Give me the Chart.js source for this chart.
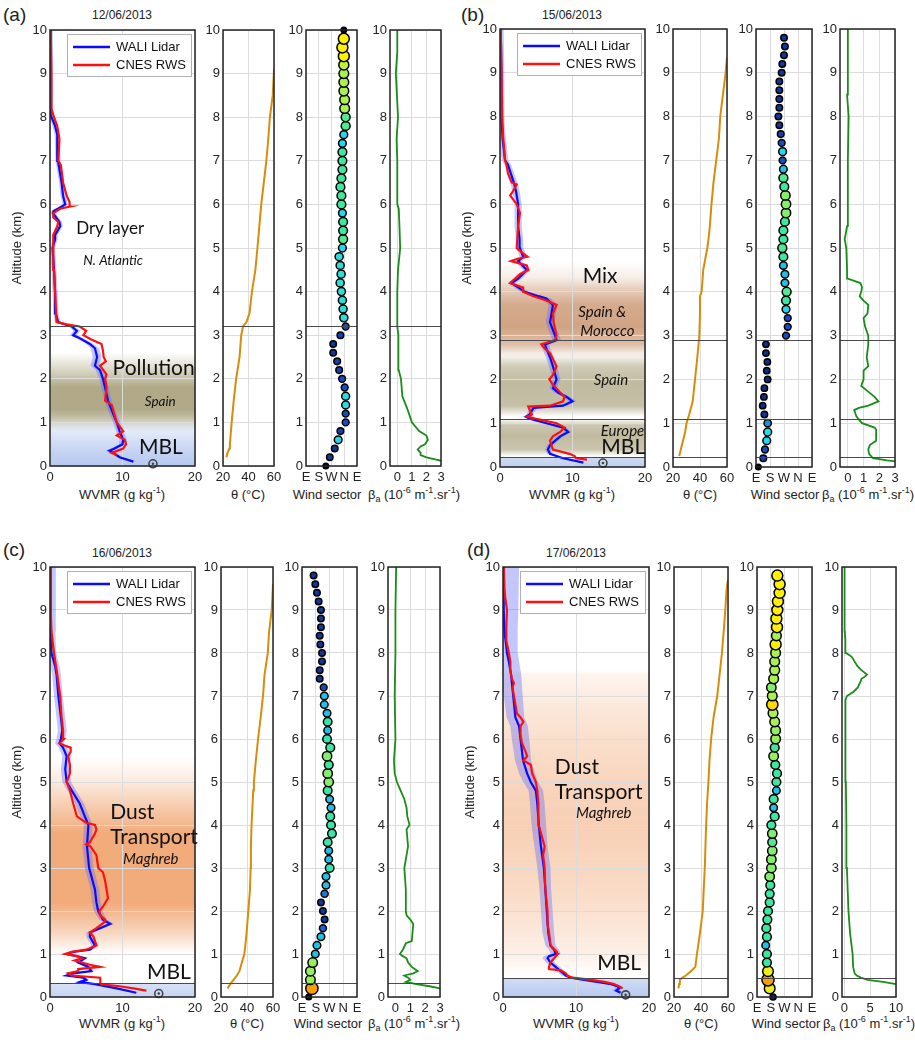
<!DOCTYPE html>
<html>
<head>
<meta charset="utf-8">
<script src="https://cdn.jsdelivr.net/npm/chart.js@4.4.1/dist/chart.umd.min.js"></script>
<style>
  body { margin: 0; background: #fff; width: 915px; height: 1046px; position: relative; overflow: hidden;
         font-family: "Liberation Sans", Arial, sans-serif; color: #222; }
  .lbl { position: absolute; white-space: nowrap; transform: translate(-50%, -50%); font-size: 13px; }
  .pl { position: absolute; font-size: 19px; transform: translateY(-50%); }
  sup, sub { font-size: 9px; line-height: 0; }
</style>
</head>
<body>

<div class="pl" style="left:3px;top:15px">(a)</div>
<div class="lbl" style="left:122px;top:15px;font-size:12px">12/06/2013</div>
<div class="pl" style="left:461px;top:15px">(b)</div>
<div class="lbl" style="left:572px;top:15px;font-size:12px">15/06/2013</div>
<div class="pl" style="left:3px;top:550px">(c)</div>
<div class="lbl" style="left:122px;top:553px;font-size:12px">16/06/2013</div>
<div class="pl" style="left:467px;top:550px">(d)</div>
<div class="lbl" style="left:576px;top:553px;font-size:12px">17/06/2013</div>

<div class="lbl" style="left:122px;top:494px">WVMR (g kg<sup>-1</sup>)</div>
<div class="lbl" style="left:248px;top:494px">θ (°C)</div>
<div class="lbl" style="left:327px;top:494px">Wind sector</div>
<div class="lbl" style="left:414px;top:494px">β<sub>a</sub> (10<sup>-6</sup> m<sup>-1</sup>.sr<sup>-1</sup>)</div>

<div class="lbl" style="left:572px;top:494px">WVMR (g kg<sup>-1</sup>)</div>
<div class="lbl" style="left:700px;top:494px">θ (°C)</div>
<div class="lbl" style="left:785px;top:494px">Wind sector</div>
<div class="lbl" style="left:868px;top:494px">β<sub>a</sub> (10<sup>-6</sup> m<sup>-1</sup>.sr<sup>-1</sup>)</div>

<div class="lbl" style="left:122px;top:1023px">WVMR (g kg<sup>-1</sup>)</div>
<div class="lbl" style="left:247px;top:1023px">θ (°C)</div>
<div class="lbl" style="left:328px;top:1023px">Wind sector</div>
<div class="lbl" style="left:414px;top:1023px">β<sub>a</sub> (10<sup>-6</sup> m<sup>-1</sup>.sr<sup>-1</sup>)</div>

<div class="lbl" style="left:576px;top:1023px">WVMR (g kg<sup>-1</sup>)</div>
<div class="lbl" style="left:701px;top:1023px">θ (°C)</div>
<div class="lbl" style="left:786px;top:1023px">Wind sector</div>
<div class="lbl" style="left:869px;top:1023px">β<sub>a</sub> (10<sup>-6</sup> m<sup>-1</sup>.sr<sup>-1</sup>)</div>

<script>
"use strict";

// common axes
const ALT_TICKS = [0, 1, 2, 3, 4, 5, 6, 7, 8, 9, 10];
const WVMR_TICKS = [0, 10, 20];
const THETA_TICKS = [20, 40, 60];
const WIND_TICKS = [90, 180, 270, 360, 450];
const WIND_LABELS = ['E', 'S', 'W', 'N', 'E'];
const BETA_TICKS = [0, 1, 2, 3];
const BETA_TICKS_D = [0, 5, 10];

// ---- (a) 12/06/2013 ----
const lidarAltA = [0.1, 0.2, 0.3, 0.35, 0.4, 0.5, 0.6, 0.8, 1.0, 1.2, 1.5, 1.8, 2.0, 2.2, 2.3, 2.5, 2.7, 2.8, 2.95, 3.0, 3.1, 3.2, 3.25, 3.3, 3.5, 4.0, 4.5, 5.0, 5.2, 5.3, 5.5, 5.6, 5.8, 5.85, 5.9, 6.0, 6.2, 6.5, 6.8, 7.0, 7.6, 7.8, 8.0, 8.1, 9.0, 10.0];
const lidarA = [11.5, 9.6, 8.7, 8.2, 8.9, 10.0, 10.1, 9.6, 9.2, 8.7, 8.0, 7.6, 7.3, 6.9, 6.2, 6.5, 6.2, 5.5, 3.9, 3.2, 3.7, 3.0, 2.0, 1.1, 0.8, 0.7, 0.55, 0.35, 0.7, 0.7, 1.4, 1.3, 0.4, 0.5, 1.1, 2.1, 1.8, 1.6, 1.3, 1.1, 1.0, 0.7, 0.2, 0.0, 0.1, 0.1];
const lidarErrA = [0.4, 0.4, 0.5, 0.5, 0.5, 0.5, 0.5, 0.5, 0.5, 0.5, 0.5, 0.5, 0.5, 0.6, 0.6, 0.6, 0.6, 0.5, 0.5, 0.5, 0.5, 0.4, 0.4, 0.4, 0.35, 0.35, 0.35, 0.35, 0.35, 0.35, 0.35, 0.35, 0.35, 0.35, 0.35, 0.35, 0.35, 0.35, 0.35, 0.35, 0.35, 0.35, 0.3, 0.3, 0.3, 0.3];
const rwsAltA = [0.25, 0.3, 0.4, 0.5, 0.6, 0.7, 0.8, 1.0, 1.4, 1.5, 1.8, 2.0, 2.1, 2.3, 2.4, 2.5, 2.65, 2.8, 2.9, 3.0, 3.1, 3.2, 3.25, 3.3, 4.0, 4.5, 5.0, 5.3, 5.5, 5.6, 5.7, 5.8, 5.9, 5.95, 6.05, 6.2, 6.5, 6.9, 7.0, 7.5, 7.8, 8.0, 8.2, 9.0, 10.0];
const rwsA = [9.2, 8.5, 10.1, 10.5, 10.3, 9.2, 10.1, 9.2, 8.5, 7.6, 7.8, 7.6, 7.8, 6.9, 7.7, 7.4, 7.3, 7.1, 5.7, 4.6, 5.0, 4.1, 2.3, 0.9, 0.7, 0.55, 0.45, 0.45, 1.0, 1.15, 0.45, 0.45, 1.4, 2.75, 2.7, 2.3, 1.8, 1.5, 1.15, 1.3, 1.0, 0.55, 0.2, 0.2, 0.1];
const surfA = {x: 14.2, y: 0.05};
const thetaAltA = [0.2, 0.3, 0.4, 0.5, 1.0, 1.5, 2.0, 2.5, 3.0, 3.2, 3.3, 3.5, 4.0, 4.5, 5.0, 5.5, 6.0, 6.5, 7.0, 7.5, 8.0, 8.5, 9.1];
const thetaA = [22.7, 23.5, 25, 25.4, 26.8, 28.4, 30.3, 33, 34.3, 35.7, 38.4, 40.8, 42.7, 45.4, 47, 48.5, 50, 52, 54, 55.5, 56.8, 59, 60];
const windAltA = [0.0, 0.2, 0.4, 0.6, 0.8, 1.0, 1.2, 1.4, 1.6, 1.8, 2.0, 2.2, 2.4, 2.6, 2.8, 3.0, 3.2, 3.4, 3.6, 3.8, 4.0, 4.2, 4.4, 4.6, 4.8, 5.0, 5.2, 5.4, 5.6, 5.8, 6.0, 6.2, 6.4, 6.6, 6.8, 7.0, 7.2, 7.4, 7.6, 7.8, 8.0, 8.2, 8.4, 8.6, 8.8, 9.0, 9.2, 9.4, 9.6, 9.8, 10.0];
const windDirA = [230, 258, 293, 317, 333, 370, 370, 370, 370, 363, 345, 324, 310, 282, 282, 333, 370, 357, 352, 347, 340, 331, 338, 331, 324, 347, 352, 352, 352, 347, 340, 340, 333, 340, 347, 347, 347, 347, 357, 370, 370, 363, 363, 357, 357, 357, 357, 357, 347, 357, 357];
const windSpdA = [1, 4, 4, 8, 4.5, 5, 5, 8.5, 8.5, 5, 5, 4.5, 4.5, 4, 4, 4.5, 5, 9, 9, 9, 9, 9, 9, 9, 9, 8, 11.5, 11, 11, 8, 11, 11, 11, 11, 11, 11, 11, 8, 8, 11.5, 11.5, 14, 14, 14, 14, 14, 15, 18, 18, 18, 1];
const betaAltA = [0.12, 0.15, 0.2, 0.25, 0.3, 0.38, 0.45, 0.5, 0.6, 0.7, 0.8, 1.0, 1.3, 1.6, 1.8, 2.0, 2.2, 2.5, 3.0, 3.2, 3.5, 4.0, 4.5, 5.0, 5.5, 5.9, 6.0, 7.0, 7.5, 8.0, 9.0, 9.5, 10.0];
const betaA = [3.0, 2.6, 2.0, 1.6, 1.6, 1.4, 1.6, 1.9, 2.1, 2.0, 1.5, 1.0, 0.7, 0.35, 0.3, 0.25, 0.1, 0.1, 0.05, 0.0, 0.0, 0.0, 0.05, 0.2, 0.15, 0.1, 0.0, 0.0, -0.05, 0.05, -0.1, 0.0, 0.0];
const layersA = [3.2];

// ---- (b) 15/06/2013 ----
const lidarAltB = [0.1, 0.2, 0.3, 0.4, 0.5, 0.7, 0.8, 0.9, 1.0, 1.1, 1.15, 1.2, 1.35, 1.4, 1.5, 1.6, 1.7, 1.8, 2.0, 2.3, 2.5, 2.7, 2.8, 2.9, 3.0, 3.3, 3.5, 3.7, 3.85, 3.9, 4.0, 4.1, 4.2, 4.3, 4.5, 4.7, 4.8, 5.0, 5.2, 5.5, 6.0, 6.3, 6.5, 6.7, 6.9, 7.0, 7.5, 8.0, 9.0, 10.0];
const lidarB = [11.5, 8.7, 6.9, 6.6, 6.9, 8.3, 9.4, 8.7, 6.4, 4.1, 3.6, 4.1, 4.6, 8.7, 10.0, 9.2, 8.0, 7.3, 7.8, 7.3, 6.9, 6.4, 6.2, 7.8, 7.6, 6.9, 7.1, 7.3, 6.4, 5.3, 3.4, 2.5, 1.6, 2.5, 3.7, 2.5, 3.2, 2.75, 2.7, 2.5, 2.5, 2.2, 1.9, 1.5, 1.1, 0.7, 0.35, 0.2, 0.2, 0.1];
const lidarErrB = [0.4, 0.4, 0.4, 0.4, 0.4, 0.45, 0.45, 0.45, 0.45, 0.45, 0.45, 0.45, 0.5, 0.5, 0.5, 0.5, 0.5, 0.5, 0.55, 0.55, 0.55, 0.55, 0.6, 0.6, 0.6, 0.6, 0.6, 0.6, 0.6, 0.6, 0.55, 0.55, 0.5, 0.5, 0.5, 0.5, 0.5, 0.5, 0.5, 0.5, 0.5, 0.5, 0.5, 0.45, 0.45, 0.45, 0.45, 0.4, 0.4, 0.4];
const rwsAltB = [0.17, 0.2, 0.25, 0.3, 0.4, 0.5, 0.6, 0.7, 0.8, 0.9, 1.0, 1.1, 1.15, 1.2, 1.3, 1.38, 1.4, 1.5, 1.6, 1.7, 1.9, 2.0, 2.1, 2.3, 2.6, 2.7, 2.8, 2.9, 3.0, 3.3, 3.5, 3.7, 3.8, 3.9, 4.0, 4.1, 4.2, 4.4, 4.5, 4.6, 4.7, 4.75, 4.8, 4.9, 5.0, 5.5, 5.8, 6.0, 6.2, 6.3, 6.45, 6.5, 6.7, 6.9, 7.0, 7.5, 8.0, 9.0, 10.0];
const rwsB = [12.0, 10.5, 10.3, 9.6, 7.3, 7.1, 6.9, 7.3, 8.3, 8.9, 7.8, 5.0, 3.8, 4.4, 4.1, 3.9, 6.9, 8.7, 8.9, 8.3, 7.2, 6.8, 7.3, 7.8, 6.9, 6.2, 5.7, 7.6, 7.8, 7.4, 7.3, 7.8, 6.4, 4.6, 3.2, 3.2, 1.4, 2.75, 3.9, 3.7, 1.5, 2.3, 3.8, 3.0, 2.3, 2.5, 2.75, 2.3, 1.4, 1.8, 2.3, 1.6, 1.1, 0.9, 0.7, 0.45, 0.3, 0.2, 0.1];
const surfB = {x: 14.2, y: 0.09};
const thetaAltB = [0.25, 0.5, 0.8, 1.0, 1.2, 1.5, 2.0, 2.5, 3.0, 3.5, 3.9, 4.0, 4.5, 5.0, 5.2, 5.5, 6.0, 6.5, 7.0, 7.5, 8.0, 8.5, 9.0, 9.35];
const thetaB = [24.6, 26.6, 29, 30, 32, 34.6, 36.3, 38, 39.5, 40, 40, 41.2, 42.4, 45.4, 46.3, 47.3, 48.5, 50, 52, 54, 55, 57, 59, 60];
const windAltB = [0.0, 0.2, 0.4, 0.6, 0.8, 1.0, 1.2, 1.4, 1.6, 1.8, 2.0, 2.2, 2.4, 2.6, 2.8, 3.0, 3.2, 3.4, 3.6, 3.8, 4.0, 4.2, 4.4, 4.6, 4.8, 5.0, 5.2, 5.4, 5.6, 5.8, 6.0, 6.2, 6.4, 6.6, 6.8, 7.0, 7.2, 7.4, 7.6, 7.8, 8.0, 8.2, 8.4, 8.6, 8.8, 9.0, 9.2, 9.4, 9.6, 9.8];
const windDirB = [105, 137, 148, 159, 165, 165, 144, 133, 141, 144, 165, 159, 163, 154, 154, 283, 294, 294, 283, 283, 287, 276, 276, 266, 266, 259, 266, 266, 276, 283, 283, 279, 272, 266, 266, 261, 261, 255, 249, 240, 234, 240, 240, 240, 240, 255, 259, 270, 276, 270];
const windSpdB = [1, 4.5, 5, 8, 8.5, 6.5, 4, 3.5, 3.5, 3.5, 3.5, 3.5, 3.5, 3.5, 3.5, 5, 5, 5, 8, 11, 11.5, 7.5, 7.5, 7.5, 11, 11.5, 11, 11, 11, 13, 13, 13, 11, 11.5, 7.5, 5, 8, 5, 4.5, 4, 4, 4, 4, 4, 4, 4, 4, 4, 4, 4];
const betaAltB = [0.13, 0.15, 0.2, 0.3, 0.4, 0.5, 0.6, 0.85, 0.9, 1.0, 1.15, 1.3, 1.35, 1.4, 1.5, 1.6, 1.75, 1.85, 2.0, 2.2, 2.3, 2.5, 2.8, 3.0, 3.2, 3.4, 3.5, 3.7, 3.8, 3.9, 4.0, 4.1, 4.2, 4.25, 4.3, 4.5, 5.0, 5.2, 5.5, 6.0, 7.0, 8.0, 8.5, 9.0, 10.0];
const betaB = [3.0, 2.5, 1.6, 1.35, 1.3, 1.4, 1.8, 1.8, 1.7, 0.9, 0.55, 0.4, 0.7, 1.3, 1.95, 1.7, 1.2, 0.85, 1.0, 1.0, 1.3, 1.2, 1.3, 1.3, 1.1, 1.0, 1.25, 1.3, 1.0, 0.75, 0.85, 0.9, 0.8, 0.4, 0.0, -0.05, -0.1, -0.2, -0.05, 0.0, 0.0, 0.05, -0.05, 0.0, 0.0];
const layersB = [2.9, 1.1, 0.22];

// ---- (c) 16/06/2013 ----
const lidarAltC = [0.1, 0.2, 0.3, 0.35, 0.4, 0.45, 0.5, 0.55, 0.6, 0.7, 0.8, 0.9, 0.95, 1.0, 1.05, 1.1, 1.2, 1.4, 1.5, 1.6, 1.7, 1.8, 2.0, 2.2, 2.5, 3.0, 3.5, 4.0, 4.2, 4.5, 4.8, 5.0, 5.3, 5.6, 5.8, 5.9, 6.0, 6.2, 6.5, 7.0, 7.5, 7.7, 8.0, 8.5, 9.0, 10.0];
const lidarC = [11.9, 9.2, 6.2, 4.1, 5.0, 4.6, 2.3, 3.2, 5.7, 5.3, 3.9, 4.8, 3.7, 2.3, 3.2, 5.5, 6.2, 5.5, 5.5, 6.9, 8.3, 7.3, 6.65, 6.4, 6.2, 5.4, 5.1, 5.3, 4.8, 4.1, 3.0, 2.3, 2.1, 2.3, 1.8, 1.3, 1.5, 1.7, 1.5, 1.15, 0.9, 0.7, 0.2, 0.1, 0.1, 0.1];
const lidarErrC = [0.4, 0.4, 0.4, 0.4, 0.4, 0.4, 0.4, 0.4, 0.4, 0.4, 0.4, 0.4, 0.4, 0.4, 0.4, 0.45, 0.5, 0.5, 0.5, 0.5, 0.55, 0.55, 0.6, 0.6, 0.6, 0.6, 0.6, 0.6, 0.6, 0.6, 0.6, 0.6, 0.6, 0.6, 0.6, 0.6, 0.6, 0.6, 0.6, 0.6, 0.6, 0.6, 0.65, 0.65, 0.7, 0.7];
const rwsAltC = [0.15, 0.2, 0.25, 0.3, 0.35, 0.4, 0.45, 0.5, 0.55, 0.6, 0.65, 0.7, 0.75, 0.85, 0.9, 0.95, 1.0, 1.05, 1.1, 1.2, 1.4, 1.5, 1.6, 1.75, 1.8, 1.9, 2.0, 2.1, 2.3, 2.5, 2.7, 2.9, 3.0, 3.3, 3.5, 3.55, 3.6, 3.8, 3.9, 4.0, 4.05, 4.2, 4.5, 4.8, 5.0, 5.2, 5.4, 5.6, 5.7, 5.8, 5.85, 5.9, 6.0, 6.2, 6.5, 7.0, 7.5, 8.0, 8.5, 9.0, 10.0];
const rwsC = [13.3, 11.5, 9.6, 6.9, 7.0, 6.9, 6.9, 3.0, 2.5, 3.9, 3.9, 6.9, 5.5, 3.4, 4.4, 3.7, 2.1, 3.0, 5.0, 6.4, 6.0, 5.5, 6.4, 7.6, 7.6, 6.9, 6.8, 7.3, 8.0, 7.8, 7.6, 7.3, 6.65, 6.4, 5.6, 5.0, 5.5, 6.2, 6.4, 6.2, 5.0, 3.7, 3.2, 2.75, 2.3, 2.75, 2.75, 2.5, 2.85, 2.85, 2.0, 1.3, 1.9, 1.8, 1.6, 1.4, 1.0, 0.55, 0.2, 0.1, 0.1];
const surfC = {x: 15.0, y: 0.08};
const thetaAltC = [0.2, 0.3, 0.4, 0.5, 0.6, 0.8, 1.0, 1.5, 2.0, 2.5, 3.0, 3.5, 4.0, 4.5, 4.8, 5.0, 5.5, 6.0, 6.5, 7.0, 7.5, 8.0, 8.5, 9.0, 9.6];
const thetaC = [25, 27.1, 29.6, 32.2, 34.2, 36, 38, 39.7, 41, 42.3, 42.8, 43, 43.5, 44.3, 44.8, 45.3, 46.8, 48.5, 50.5, 52.3, 53.5, 56, 57, 59, 60];
const windAltC = [0.0, 0.2, 0.4, 0.6, 0.8, 1.0, 1.2, 1.4, 1.6, 1.8, 2.0, 2.2, 2.4, 2.6, 2.8, 3.0, 3.2, 3.4, 3.6, 3.8, 4.0, 4.2, 4.4, 4.6, 4.8, 5.0, 5.2, 5.4, 5.6, 5.8, 6.0, 6.2, 6.4, 6.6, 6.8, 7.0, 7.2, 7.4, 7.6, 7.8, 8.0, 8.2, 8.4, 8.6, 8.8, 9.0, 9.2, 9.4, 9.6, 9.8];
const windDirC = [134, 155, 145, 145, 160, 177, 188, 214, 227, 238, 227, 214, 238, 247, 247, 271, 265, 265, 258, 286, 280, 275, 280, 271, 258, 265, 258, 265, 254, 275, 254, 258, 258, 254, 236, 236, 232, 206, 206, 221, 221, 210, 206, 214, 214, 214, 199, 188, 177, 166];
const windSpdC = [1.5, 22, 13.5, 13.5, 13.5, 7.5, 7.5, 7.5, 5.5, 4, 4, 4, 6, 7.5, 7.5, 10.5, 7.5, 7.5, 10.5, 10.5, 10.5, 10.5, 7.5, 7.5, 11, 13, 13, 11, 13, 11, 10.5, 7.5, 10.5, 7.5, 7.5, 7.5, 5, 4, 4, 4, 4, 4, 4, 4, 4, 4, 4, 4, 4, 4];
const betaAltC = [0.2, 0.25, 0.3, 0.35, 0.4, 0.45, 0.5, 0.55, 0.6, 0.7, 0.8, 0.9, 0.95, 1.0, 1.1, 1.25, 1.3, 1.5, 1.7, 1.8, 1.9, 2.0, 2.5, 3.0, 3.2, 3.5, 3.9, 4.0, 4.2, 4.4, 4.6, 4.8, 5.0, 5.2, 5.5, 6.0, 7.0, 8.0, 9.0, 10.0];
const betaC = [3.0, 2.3, 1.4, 0.7, 1.0, 0.85, 0.6, 1.2, 1.5, 1.1, 0.85, 0.75, 0.5, 0.3, 0.5, 0.7, 1.1, 1.15, 1.2, 1.0, 0.75, 0.7, 0.7, 0.6, 0.7, 0.85, 0.75, 0.95, 0.8, 0.75, 0.6, 0.35, 0.1, -0.05, -0.1, 0.0, -0.05, 0.0, 0.0, 0.05];
const layersC = [0.32];

// ---- (d) 17/06/2013 ----
const lidarAltD = [0.1, 0.15, 0.2, 0.25, 0.3, 0.35, 0.4, 0.45, 0.5, 0.6, 0.7, 0.8, 0.9, 0.95, 1.0, 1.1, 1.2, 1.5, 2.0, 2.5, 3.0, 3.5, 4.0, 4.5, 4.8, 5.0, 5.2, 5.5, 6.0, 6.3, 6.5, 7.0, 7.5, 7.8, 8.0, 8.5, 9.0, 10.0];
const lidarD = [16.1, 15.5, 15.9, 15.7, 14.8, 12.9, 11.1, 9.3, 8.6, 7.9, 7.2, 6.5, 6.1, 6.3, 7.2, 7.0, 6.5, 6.2, 6.0, 5.8, 5.6, 5.2, 4.9, 4.7, 4.5, 3.8, 3.3, 2.75, 2.4, 2.2, 1.7, 1.4, 1.1, 0.8, 0.55, 0.2, 0.1, 0.1];
const lidarErrD = [0.5, 0.5, 0.5, 0.5, 0.5, 0.5, 0.5, 0.5, 0.6, 0.6, 0.6, 0.6, 0.7, 0.7, 0.7, 0.7, 0.7, 0.8, 0.8, 0.8, 0.9, 0.9, 1.0, 1.0, 1.0, 1.0, 1.1, 1.1, 1.2, 1.2, 1.2, 1.3, 1.4, 1.4, 1.5, 1.8, 2.0, 2.1];
const rwsAltD = [0.2, 0.25, 0.3, 0.35, 0.4, 0.45, 0.5, 0.55, 0.62, 0.65, 0.7, 0.8, 0.9, 1.0, 1.05, 1.2, 1.5, 1.7, 2.0, 2.5, 3.0, 3.3, 3.5, 4.0, 4.2, 4.5, 4.8, 5.0, 5.2, 5.4, 5.5, 5.6, 5.7, 5.9, 6.1, 6.3, 6.4, 6.5, 6.6, 6.8, 7.0, 7.2, 7.3, 7.4, 7.6, 7.8, 8.0, 8.3, 8.6, 9.0, 9.3, 9.5, 10.0];
const rwsD = [16.4, 15.9, 15.2, 13.9, 12.1, 9.5, 8.8, 8.6, 7.9, 6.3, 6.3, 6.5, 7.0, 7.5, 7.4, 6.5, 6.3, 6.1, 6.1, 5.8, 5.7, 5.5, 5.7, 4.9, 4.9, 4.8, 4.7, 4.5, 4.0, 3.8, 2.8, 3.3, 3.1, 2.6, 2.4, 2.4, 2.8, 2.4, 1.9, 1.7, 1.5, 1.3, 1.5, 1.2, 1.0, 1.0, 0.8, 0.45, 0.45, 0.55, 0.3, 0.2, 0.1];
const surfD = {x: 16.8, y: 0.05};
const thetaAltD = [0.2, 0.3, 0.4, 0.45, 0.5, 0.6, 0.7, 1.0, 1.5, 2.0, 2.5, 3.0, 3.5, 4.0, 4.5, 5.0, 5.5, 6.0, 6.5, 7.0, 7.5, 8.0, 8.5, 9.0, 9.5, 9.7];
const thetaD = [23.3, 23.8, 24.3, 26.3, 28.8, 32.5, 35.8, 37, 39.3, 41.3, 42, 42.8, 43.3, 43.8, 44.5, 45.5, 46.3, 47.5, 49.3, 52, 53.8, 55.5, 56.8, 58, 59, 60];
const windAltD = [0.0, 0.2, 0.4, 0.6, 0.8, 1.0, 1.2, 1.4, 1.6, 1.8, 2.0, 2.2, 2.4, 2.6, 2.8, 3.0, 3.2, 3.4, 3.6, 3.8, 4.0, 4.2, 4.4, 4.6, 4.8, 5.0, 5.2, 5.4, 5.6, 5.8, 6.0, 6.2, 6.4, 6.6, 6.8, 7.0, 7.2, 7.4, 7.6, 7.8, 8.0, 8.2, 8.4, 8.6, 8.8, 9.0, 9.2, 9.4, 9.6, 9.8];
const windDirD = [195, 173, 162, 162, 155, 155, 147, 155, 151, 158, 162, 173, 173, 177, 173, 184, 184, 190, 190, 190, 184, 206, 199, 199, 217, 217, 221, 210, 199, 206, 212, 212, 206, 195, 190, 190, 184, 199, 206, 206, 212, 212, 217, 221, 217, 223, 227, 238, 238, 223];
const windSpdD = [3, 17, 22, 17, 11, 11, 7.5, 11, 11, 11, 11, 11, 11, 11, 13, 13, 13, 13, 11.5, 13, 11, 11, 7.5, 11, 7.5, 11, 11, 11, 13.5, 11, 13.5, 13.5, 14, 14, 19, 14, 13, 14, 14, 14, 14, 18, 14, 18, 18, 18, 18, 18, 18, 18];
const betaAltD = [0.3, 0.35, 0.4, 0.45, 0.5, 0.55, 0.7, 1.0, 1.5, 2.0, 2.5, 3.0, 4.0, 5.0, 6.0, 6.5, 6.9, 7.0, 7.05, 7.1, 7.2, 7.3, 7.35, 7.4, 7.45, 7.5, 7.6, 7.7, 7.8, 7.9, 7.95, 8.0, 8.3, 8.5, 9.0, 10.0];
const betaD = [10, 7.5, 4.5, 3.2, 2.4, 2.0, 1.7, 1.6, 1.1, 0.8, 0.65, 0.5, 0.4, 0.3, 0.2, 0.25, 0.2, 0.5, 1.2, 1.8, 2.6, 3.0, 3.2, 3.3, 4.0, 4.4, 3.3, 2.5, 2.0, 1.5, 1.0, 0.3, 0.2, 0.1, 0.1, 0.0];
const layersD = [0.44];

// ---- styling ----
Chart.defaults.font.family = '"Liberation Sans", Arial, sans-serif';
Chart.defaults.font.size = 13;
Chart.defaults.color = '#222';

const OLIVE = '150,140,95';
const BROWN = '190,125,80';
const DUST = '238,150,90';
const SEA = '175,195,238';
const BIG = '21px Lato';
const MID = '17px Lato';
const IT13 = 'italic 13.5px Lato';
const IT15 = 'italic 15px Lato';

// wind speed colour scale (m/s -> rgb)
const SPEED_STOPS = [[0, [0, 0, 0]], [2.5, [10, 25, 90]], [5, [25, 75, 190]], [8, [35, 215, 240]], [11, [60, 232, 160]], [14, [170, 240, 80]], [18, [255, 240, 0]], [22, [245, 160, 0]]];
function speedColor(s) {
    for (let i = 1; i < SPEED_STOPS.length; i++) {
        const [s1, c1] = SPEED_STOPS[i];
        const [s0, c0] = SPEED_STOPS[i - 1];
        if (s <= s1) {
            const t = (s - s0) / (s1 - s0);
            return 'rgb(' + c0.map((c, k) => Math.round(c + (c1[k] - c) * t)).join(',') + ')';
        }
    }
    return 'rgb(245,160,0)';
}
const speedRadius = s => 2.6 + s * 0.16;

const pts = (alts, vals) => alts.map((a, i) => ({x: vals[i], y: a}));

// draws bands, layer lines, frame, labels and legend box
function deco(d) {
    return {
        id: 'deco',
        beforeDraw(chart) {
            const {ctx, chartArea: a, scales: {y}} = chart;
            (d.bands || []).forEach(b => {
                const g = ctx.createLinearGradient(0, y.getPixelForValue(0), 0, y.getPixelForValue(10));
                b.stops.forEach(([alt, al]) => g.addColorStop(alt / 10, 'rgba(' + b.rgb + ',' + al + ')'));
                ctx.fillStyle = g;
                ctx.fillRect(a.left, a.top, a.width, a.height);
            });
        },
        afterDatasetsDraw(chart) {
            const {ctx, chartArea: a, scales: {x, y}} = chart;
            ctx.save();
            ctx.strokeStyle = '#4a4a4a';
            ctx.lineWidth = 1.2;
            (d.hlines || []).forEach(h => {
                const py = Math.round(y.getPixelForValue(h)) + 0.5;
                ctx.beginPath(); ctx.moveTo(a.left, py); ctx.lineTo(a.right, py); ctx.stroke();
            });
            ctx.strokeStyle = '#222';
            ctx.lineWidth = 1.5;
            ctx.strokeRect(a.left, a.top, a.width, a.height);
            ctx.fillStyle = '#111';
            ctx.textBaseline = 'middle';
            (d.texts || []).forEach(t => {
                ctx.font = t.font;
                ctx.textAlign = t.align || 'center';
                ctx.fillText(t.t, x.getPixelForValue(t.x), y.getPixelForValue(t.y));
            });
            if (d.legend) {
                const bx = a.left + 17, by = a.top + 4, bw = a.width - 21, bh = 42;
                ctx.fillStyle = '#fff';
                ctx.fillRect(bx, by, bw, bh);
                ctx.strokeStyle = '#b0b0b0';
                ctx.lineWidth = 1;
                ctx.strokeRect(bx + 0.5, by + 0.5, bw, bh);
                ctx.font = '13px "Liberation Sans", Arial, sans-serif';
                ctx.textAlign = 'left';
                d.legend.forEach((it, i) => {
                    const ly = by + 13 + i * 18;
                    ctx.strokeStyle = it.color;
                    ctx.lineWidth = 2.5;
                    ctx.beginPath(); ctx.moveTo(bx + 6, ly); ctx.lineTo(bx + 43, ly); ctx.stroke();
                    ctx.fillStyle = '#111';
                    ctx.fillText(it.label, bx + 49, ly);
                });
            }
            ctx.restore();
        }
    };
}

function makeChart(geo, opt) {
    const [L, T, R, B] = geo;
    const yw = opt.yTitle ? 50 : 32;
    const w = R - L + yw + 10, h = B - T + 8 + 20;
    const cv = document.createElement('canvas');
    cv.width = w; cv.height = h;
    cv.style.cssText = 'position:absolute;left:' + (L - yw) + 'px;top:' + (T - 8) + 'px;width:' + w + 'px;height:' + h + 'px';
    document.body.appendChild(cv);
    return new Chart(cv, {
        type: 'line',
        data: {datasets: opt.datasets},
        options: {
            responsive: false,
            animation: false,
            devicePixelRatio: 1,
            indexAxis: 'y',
            layout: {padding: {top: 8, right: 10, left: 0, bottom: 0}},
            elements: {point: {radius: 0}, line: {tension: 0}},
            plugins: {legend: {display: false}, tooltip: {enabled: false}},
            scales: {
                x: {
                    type: 'linear', min: opt.xMin, max: opt.xMax,
                    afterBuildTicks: s => { s.ticks = opt.xTicks.map(v => ({value: v})); },
                    afterFit: s => { s.height = 20; s.paddingLeft = 0; s.paddingRight = 0; },
                    ticks: {
                        padding: 4, maxRotation: 0, autoSkip: false,
                        callback: opt.xLabels ? (v => opt.xLabels[opt.xTicks.indexOf(v)]) : (v => v)
                    },
                    grid: {color: '#dcdcdc', drawTicks: false},
                    border: {display: false}
                },
                y: {
                    type: 'linear', min: 0, max: 10,
                    afterBuildTicks: s => { s.ticks = ALT_TICKS.map(v => ({value: v})); },
                    afterFit: s => { s.width = yw; s.paddingTop = 0; s.paddingBottom = 0; },
                    ticks: {padding: 3},
                    grid: {color: '#dcdcdc', drawTicks: false},
                    border: {display: false},
                    title: {display: !!opt.yTitle, text: 'Altitude (km)', padding: {top: 10, bottom: 0}}
                }
            }
        },
        plugins: [deco(opt.deco || {})]
    });
}

function panel(p) {
    makeChart(p.geo[0], {
        yTitle: true, xMin: 0, xMax: 20, xTicks: WVMR_TICKS,
        datasets: [
            {data: pts(p.lidarAlt, p.lidar.map((v, i) => v - p.err[i])), borderWidth: 0, fill: false, order: 5},
            {data: pts(p.lidarAlt, p.lidar.map((v, i) => v + p.err[i])), borderWidth: 0, fill: '-1',
             backgroundColor: 'rgba(95,105,245,0.38)', order: 4},
            {label: 'WALI Lidar', data: pts(p.lidarAlt, p.lidar), borderColor: '#0a0aff', borderWidth: 2.2, order: 3},
            {label: 'CNES RWS', data: pts(p.rwsAlt, p.rws), borderColor: '#ff1010', borderWidth: 2.2, order: 2},
            {data: [p.surf], showLine: false, pointRadius: 4, pointBorderWidth: 1.6, pointBorderColor: '#444',
             pointBackgroundColor: 'rgba(0,0,0,0)', clip: false, order: 1},
            {data: [p.surf], showLine: false, pointRadius: 1.3, pointBorderWidth: 0, pointBackgroundColor: '#444',
             clip: false, order: 0}
        ],
        deco: {bands: p.bands, hlines: p.hlines, texts: p.texts,
               legend: [{label: 'WALI Lidar', color: '#0a0aff'}, {label: 'CNES RWS', color: '#ff1010'}]}
    });
    makeChart(p.geo[1], {
        xMin: 20, xMax: 60, xTicks: THETA_TICKS,
        datasets: [{data: pts(p.thetaAlt, p.theta), borderColor: '#d98c0a', borderWidth: 2}],
        deco: {hlines: p.hlines}
    });
    makeChart(p.geo[2], {
        xMin: 90, xMax: 450, xTicks: WIND_TICKS, xLabels: WIND_LABELS,
        datasets: [{
            data: pts(p.windAlt, p.windDir), showLine: false, clip: false,
            pointRadius: p.windSpd.map(speedRadius),
            pointBackgroundColor: p.windSpd.map(speedColor),
            pointBorderColor: '#000', pointBorderWidth: 1.5
        }],
        deco: {hlines: p.hlines}
    });
    makeChart(p.geo[3], {
        xMin: p.betaMin, xMax: p.betaMax, xTicks: p.betaTicks,
        datasets: [{data: pts(p.betaAlt, p.beta), borderColor: '#1a8c1a', borderWidth: 1.8}],
        deco: {hlines: p.hlines}
    });
}

panel({
    geo: [[50, 30, 195, 466], [223, 30, 274, 466], [306, 30, 357, 466], [390, 30, 441, 466]],
    lidarAlt: lidarAltA, lidar: lidarA, err: lidarErrA, rwsAlt: rwsAltA, rws: rwsA, surf: surfA,
    thetaAlt: thetaAltA, theta: thetaA, windAlt: windAltA, windDir: windDirA, windSpd: windSpdA,
    betaAlt: betaAltA, beta: betaA, betaMin: -0.5, betaMax: 3, betaTicks: BETA_TICKS, hlines: layersA,
    bands: [
        {rgb: OLIVE, stops: [[0.8, 0], [1.1, 0.55], [1.3, 0.75], [1.8, 0.75], [2.1, 0.45], [2.6, 0]]},
        {rgb: SEA, stops: [[0, 0.9], [0.3, 0.75], [0.8, 0.35], [1.1, 0]]}
    ],
    texts: [
        {t: 'Dry layer', x: 8.3, y: 5.44, font: MID},
        {t: 'N. Atlantic', x: 8.7, y: 4.72, font: IT13},
        {t: 'Pollution', x: 14.3, y: 2.25, font: BIG},
        {t: 'Spain', x: 15.2, y: 1.47, font: IT13},
        {t: 'MBL', x: 15.3, y: 0.42, font: BIG}
    ]
});

panel({
    geo: [[500, 29, 645, 467], [673, 29, 727, 467], [756, 29, 812, 467], [840, 29, 895, 467]],
    lidarAlt: lidarAltB, lidar: lidarB, err: lidarErrB, rwsAlt: rwsAltB, rws: rwsB, surf: surfB,
    thetaAlt: thetaAltB, theta: thetaB, windAlt: windAltB, windDir: windDirB, windSpd: windSpdB,
    betaAlt: betaAltB, beta: betaB, betaMin: -0.5, betaMax: 3, betaTicks: BETA_TICKS, hlines: layersB,
    bands: [
        {rgb: BROWN, stops: [[2.5, 0], [2.8, 0.5], [3.2, 0.7], [3.7, 0.65], [4.1, 0.35], [4.3, 0.15], [4.7, 0]]},
        {rgb: OLIVE, stops: [[1.15, 0], [1.4, 0.55], [1.9, 0.6], [2.3, 0.45], [2.6, 0]]},
        {rgb: OLIVE, stops: [[0.25, 0], [0.4, 0.5], [0.7, 0.6], [0.95, 0.5], [1.1, 0]]},
        {rgb: SEA, stops: [[0, 0.8], [0.22, 0.6], [0.23, 0]]}
    ],
    texts: [
        {t: 'Mix', x: 13.8, y: 4.36, font: BIG},
        {t: 'Spain &', x: 14.1, y: 3.54, font: IT15},
        {t: 'Morocco', x: 14.8, y: 3.11, font: IT15},
        {t: 'Spain', x: 15.3, y: 1.99, font: IT15},
        {t: 'Europe', x: 16.9, y: 0.82, font: IT15},
        {t: 'MBL', x: 17.0, y: 0.46, font: BIG}
    ]
});

panel({
    geo: [[50, 567, 195, 997], [221, 567, 273, 997], [302, 567, 357, 997], [388, 567, 440, 997]],
    lidarAlt: lidarAltC, lidar: lidarC, err: lidarErrC, rwsAlt: rwsAltC, rws: rwsC, surf: surfC,
    thetaAlt: thetaAltC, theta: thetaC, windAlt: windAltC, windDir: windDirC, windSpd: windSpdC,
    betaAlt: betaAltC, beta: betaC, betaMin: -0.5, betaMax: 3, betaTicks: BETA_TICKS, hlines: layersC,
    bands: [
        {rgb: DUST, stops: [[1.0, 0], [1.5, 0.4], [2.2, 0.8], [3.8, 0.8], [4.5, 0.45], [5.0, 0.2], [5.6, 0]]},
        {rgb: SEA, stops: [[0, 0.7], [0.32, 0.5], [0.33, 0]]}
    ],
    texts: [
        {t: 'Dust', x: 8.3, y: 4.3, font: BIG, align: 'left'},
        {t: 'Transport', x: 8.3, y: 3.72, font: BIG, align: 'left'},
        {t: 'Maghreb', x: 13.9, y: 3.2, font: IT15},
        {t: 'MBL', x: 16.4, y: 0.58, font: BIG}
    ]
});

panel({
    geo: [[503, 567, 649, 997], [674, 567, 728, 997], [757, 567, 812, 997], [842, 567, 896, 997]],
    lidarAlt: lidarAltD, lidar: lidarD, err: lidarErrD, rwsAlt: rwsAltD, rws: rwsD, surf: surfD,
    thetaAlt: thetaAltD, theta: thetaD, windAlt: windAltD, windDir: windDirD, windSpd: windSpdD,
    betaAlt: betaAltD, beta: betaD, betaMin: -0.45, betaMax: 10, betaTicks: BETA_TICKS_D, hlines: layersD,
    bands: [
        {rgb: DUST, stops: [[0.5, 0], [1.0, 0.15], [2.5, 0.35], [4.0, 0.45], [5.0, 0.4], [6.5, 0.25], [7.5, 0.1], [7.6, 0]]},
        {rgb: SEA, stops: [[0, 0.9], [0.44, 0.55], [0.45, 0]]}
    ],
    texts: [
        {t: 'Dust', x: 7.1, y: 5.35, font: BIG, align: 'left'},
        {t: 'Transport', x: 7.1, y: 4.77, font: BIG, align: 'left'},
        {t: 'Maghreb', x: 13.8, y: 4.28, font: IT15},
        {t: 'MBL', x: 15.9, y: 0.79, font: BIG}
    ]
});
</script>
</body>
</html>
